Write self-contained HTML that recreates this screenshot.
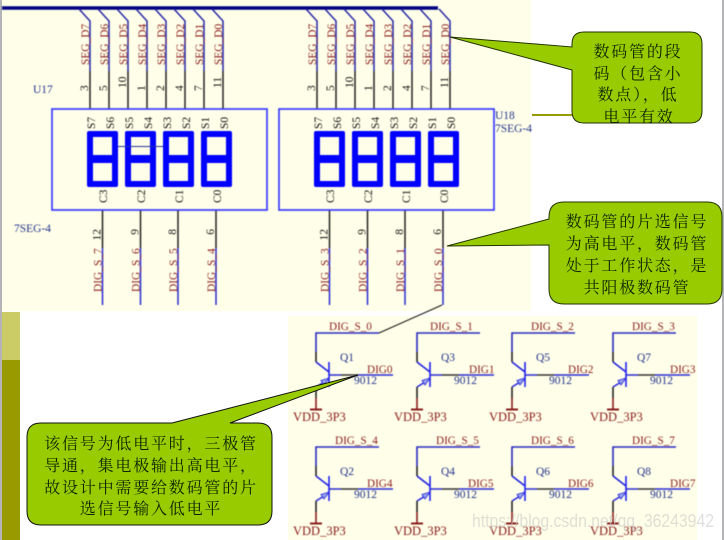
<!DOCTYPE html>
<html><head><meta charset="utf-8">
<style>
html,body{margin:0;padding:0;background:#fff;width:724px;height:540px;overflow:hidden}
svg{display:block}
.s{filter:blur(0.45px)}
text{font-family:"Liberation Serif","Noto Serif CJK SC",serif}
.r{fill:#8a1c1c;font-size:11.4px}
.k{fill:#111;font-size:11.5px}
.b{fill:#22328c;font-size:11.5px}
.v{fill:#8a1c1c;font-size:12.5px}
.d{fill:#8a1c1c;font-size:11.2px}
.c{font-family:"Liberation Sans","Noto Sans CJK SC",sans-serif;font-size:16px;letter-spacing:1.8px;fill:#0c2400;text-anchor:middle}
.e{text-anchor:end}
</style></head><body>
<svg width="724" height="540" viewBox="0 0 724 540" xmlns="http://www.w3.org/2000/svg">
<defs>
<path id="dg" fill-rule="evenodd" fill="#0000ff" d="M89,131H116Q118,131 118,133V185Q118,187 116,187H89Q87,187 87,185V133Q87,131 89,131ZM93,137V155H112V137ZM93,163V181H112V163Z"/>
<g id="tw" fill="none">
<path d="M79,9L90,21V71" stroke="#2626a8" stroke-width="1.5"/>
<path d="M90,71V109" stroke="#222" stroke-width="1.5"/>
</g>
<g id="bw" fill="none">
<path d="M102.5,210V248" stroke="#222" stroke-width="1.5"/>
<path d="M102.5,248V305" stroke="#2a2ad0" stroke-width="1.5"/>
</g>
<g id="q" fill="none" stroke-width="1.600">
<path d="M379,333H316V352" stroke="#2a2ac0"/>
<path d="M316,352V362" stroke="#222"/>
<path d="M316,362L329,372" stroke="#2020e0"/>
<path d="M329,362V387" stroke="#2020f0"/>
<path d="M329,375H341M358,375H393" stroke="#2a2ad0"/>
<path d="M341,375H358" stroke="#333"/>
<path d="M329,379L316,387" stroke="#2a2ae0"/>
<path d="M329,378L321,380.500L324,385Z" fill="#9aa8e8" stroke="#2a2ae0" stroke-width="0.9"/>
<path d="M316,387V398" stroke="#222"/>
<path d="M316,398V409" stroke="#8a1c1c"/>
<path d="M310,409.500H322" stroke="#8a1c1c" stroke-width="2"/>
</g>
</defs>

<rect width="724" height="540" fill="#fff"/>
<rect x="1" y="0" width="530" height="311" fill="#ffffe9"/>
<rect x="0" y="0" width="2" height="540" fill="#b4b4b8"/>
<rect x="722" y="0" width="2" height="540" fill="#b4b4b8"/>
<rect x="2" y="312" width="18" height="48" fill="#cccc66"/>
<rect x="2" y="360" width="18" height="180" fill="#999900"/>
<rect x="288" y="316" width="409" height="224" fill="#ffffe9"/>
<rect x="532" y="114" width="42" height="2" fill="#999900"/>

<g class="s">
<path d="M2,8H438" stroke="#000080" stroke-width="3.400" fill="none"/>
<use href="#tw"/><use href="#tw" x="19"/><use href="#tw" x="38"/><use href="#tw" x="57"/><use href="#tw" x="76"/><use href="#tw" x="95"/><use href="#tw" x="114"/><use href="#tw" x="133"/>
<use href="#tw" x="227"/><use href="#tw" x="246"/><use href="#tw" x="265"/><use href="#tw" x="284"/><use href="#tw" x="303"/><use href="#tw" x="322"/><use href="#tw" x="341"/><use href="#tw" x="360"/>
<use href="#bw"/><use href="#bw" x="38"/><use href="#bw" x="75.500"/><use href="#bw" x="113.500"/>
<use href="#bw" x="227"/><use href="#bw" x="265"/><use href="#bw" x="302.500"/><use href="#bw" x="340.500"/>
<rect x="52" y="109" width="215" height="101" fill="none" stroke="#3a3aff" stroke-width="1.700"/>
<rect x="279" y="109" width="215" height="101" fill="none" stroke="#3a3aff" stroke-width="1.700"/>
<use href="#dg"/><use href="#dg" x="38"/><use href="#dg" x="76"/><use href="#dg" x="114"/>
<use href="#dg" x="227"/><use href="#dg" x="265"/><use href="#dg" x="303"/><use href="#dg" x="341"/>
<path d="M118,146.500H163" stroke="#223399" stroke-width="1"/>

<g class="r">
<text transform="translate(89,65) rotate(-90)">SEG_D7</text>
<text transform="translate(108,65) rotate(-90)">SEG_D6</text>
<text transform="translate(127,65) rotate(-90)">SEG_D5</text>
<text transform="translate(146,65) rotate(-90)">SEG_D4</text>
<text transform="translate(165,65) rotate(-90)">SEG_D3</text>
<text transform="translate(184,65) rotate(-90)">SEG_D2</text>
<text transform="translate(203,65) rotate(-90)">SEG_D1</text>
<text transform="translate(222,65) rotate(-90)">SEG_D0</text>
<text transform="translate(316,65) rotate(-90)">SEG_D7</text>
<text transform="translate(335,65) rotate(-90)">SEG_D6</text>
<text transform="translate(354,65) rotate(-90)">SEG_D5</text>
<text transform="translate(373,65) rotate(-90)">SEG_D4</text>
<text transform="translate(392,65) rotate(-90)">SEG_D3</text>
<text transform="translate(411,65) rotate(-90)">SEG_D2</text>
<text transform="translate(430,65) rotate(-90)">SEG_D1</text>
<text transform="translate(449,65) rotate(-90)">SEG_D0</text>
<text transform="translate(101.500,292) rotate(-90)">DIG_S_7</text>
<text transform="translate(139.500,292) rotate(-90)">DIG_S_6</text>
<text transform="translate(177,292) rotate(-90)">DIG_S_5</text>
<text transform="translate(215,292) rotate(-90)">DIG_S_4</text>
<text transform="translate(328.500,292) rotate(-90)">DIG_S_3</text>
<text transform="translate(366.500,292) rotate(-90)">DIG_S_2</text>
<text transform="translate(404,292) rotate(-90)">DIG_S_1</text>
<text transform="translate(442,292) rotate(-90)">DIG_S_0</text>
</g>

<g class="k">
<text transform="translate(88,91) rotate(-90)">3</text>
<text transform="translate(107,91) rotate(-90)">5</text>
<text transform="translate(126,88) rotate(-90)">10</text>
<text transform="translate(145,91) rotate(-90)">1</text>
<text transform="translate(164,91) rotate(-90)">2</text>
<text transform="translate(183,91) rotate(-90)">4</text>
<text transform="translate(202,91) rotate(-90)">7</text>
<text transform="translate(221,88) rotate(-90)">11</text>
<text transform="translate(315,91) rotate(-90)">3</text>
<text transform="translate(334,91) rotate(-90)">5</text>
<text transform="translate(353,88) rotate(-90)">10</text>
<text transform="translate(372,91) rotate(-90)">1</text>
<text transform="translate(391,91) rotate(-90)">2</text>
<text transform="translate(410,91) rotate(-90)">4</text>
<text transform="translate(429,91) rotate(-90)">7</text>
<text transform="translate(448,88) rotate(-90)">11</text>

<text transform="translate(95,129) rotate(-90)">S7</text>
<text transform="translate(114,129) rotate(-90)">S6</text>
<text transform="translate(133,129) rotate(-90)">S5</text>
<text transform="translate(152,129) rotate(-90)">S4</text>
<text transform="translate(171,129) rotate(-90)">S3</text>
<text transform="translate(190,129) rotate(-90)">S2</text>
<text transform="translate(209,129) rotate(-90)">S1</text>
<text transform="translate(228,129) rotate(-90)">S0</text>
<text transform="translate(322,129) rotate(-90)">S7</text>
<text transform="translate(341,129) rotate(-90)">S6</text>
<text transform="translate(360,129) rotate(-90)">S5</text>
<text transform="translate(379,129) rotate(-90)">S4</text>
<text transform="translate(398,129) rotate(-90)">S3</text>
<text transform="translate(417,129) rotate(-90)">S2</text>
<text transform="translate(436,129) rotate(-90)">S1</text>
<text transform="translate(455,129) rotate(-90)">S0</text>

<text transform="translate(107,203) rotate(-90)">C3</text>
<text transform="translate(145,203) rotate(-90)">C2</text>
<text transform="translate(183,203) rotate(-90)">C1</text>
<text transform="translate(221,203) rotate(-90)">C0</text>
<text transform="translate(334,203) rotate(-90)">C3</text>
<text transform="translate(372,203) rotate(-90)">C2</text>
<text transform="translate(410,203) rotate(-90)">C1</text>
<text transform="translate(448,203) rotate(-90)">C0</text>

<text class="e" transform="translate(100.500,229) rotate(-90)">12</text>
<text class="e" transform="translate(138.500,229) rotate(-90)">9</text>
<text class="e" transform="translate(176,229) rotate(-90)">8</text>
<text class="e" transform="translate(214,229) rotate(-90)">6</text>
<text class="e" transform="translate(327.500,229) rotate(-90)">12</text>
<text class="e" transform="translate(365.500,229) rotate(-90)">9</text>
<text class="e" transform="translate(403,229) rotate(-90)">8</text>
<text class="e" transform="translate(441,229) rotate(-90)">6</text>
</g>

<g class="b">
<text x="33" y="93">U17</text>
<text x="14" y="232">7SEG-4</text>
<text x="495" y="119">U18</text>
<text x="495" y="132">7SEG-4</text>
</g>

<use href="#q"/><use href="#q" x="101"/><use href="#q" x="196"/><use href="#q" x="297"/>
<use href="#q" y="114"/><use href="#q" x="101" y="114"/><use href="#q" x="196" y="114"/><use href="#q" x="297" y="114"/>

<g class="d">
<text x="329" y="330">DIG_S_0</text>
<text x="430" y="330">DIG_S_1</text>
<text x="531" y="330">DIG_S_2</text>
<text x="632" y="330">DIG_S_3</text>
<text x="335" y="444">DIG_S_4</text>
<text x="436" y="444">DIG_S_5</text>
<text x="531" y="444">DIG_S_6</text>
<text x="632" y="444">DIG_S_7</text>
<text x="367" y="373">DIG0</text>
<text x="469" y="373">DIG1</text>
<text x="568" y="373">DIG2</text>
<text x="670" y="373">DIG3</text>
<text x="367" y="487">DIG4</text>
<text x="468" y="487">DIG5</text>
<text x="568" y="487">DIG6</text>
<text x="670" y="487">DIG7</text>
</g>
<g class="b">
<text x="354" y="384">9012</text>
<text x="454" y="384">9012</text>
<text x="549" y="384">9012</text>
<text x="650" y="384">9012</text>
<text x="354" y="498">9012</text>
<text x="454" y="498">9012</text>
<text x="549" y="498">9012</text>
<text x="650" y="498">9012</text>
<text x="340" y="361">Q1</text>
<text x="441" y="361">Q3</text>
<text x="536" y="361">Q5</text>
<text x="637" y="361">Q7</text>
<text x="340" y="475">Q2</text>
<text x="441" y="475">Q4</text>
<text x="536" y="475">Q6</text>
<text x="637" y="475">Q8</text>
</g>
<g class="v">
<text x="293" y="421">VDD_3P3</text>
<text x="394" y="421">VDD_3P3</text>
<text x="489" y="421">VDD_3P3</text>
<text x="590" y="421">VDD_3P3</text>
<text x="293" y="535">VDD_3P3</text>
<text x="394" y="535">VDD_3P3</text>
<text x="489" y="535">VDD_3P3</text>
<text x="590" y="535">VDD_3P3</text>
</g>
<path d="M379,333L442,305" stroke="#111" stroke-width="1" fill="none"/>
</g>

<path d="M584,32H690Q702,32 702,44V111Q702,123 690,123H584Q572,123 572,111V70L450,37L572,47V44Q572,32 584,32Z" fill="#99cc00" stroke="#223300" stroke-width="1"/>
<path d="M564,202H707Q722,202 722,217V289Q722,304 707,304H564Q549,304 549,289V245L447,246L549,219V217Q549,202 564,202Z" fill="#99cc00" stroke="#223300" stroke-width="1"/>
<path d="M41,423H172L358,375L230,423H258Q272,423 272,437V511Q272,525 258,525H41Q27,525 27,511V437Q27,423 41,423Z" fill="#99cc00" stroke="#111" stroke-width="1"/>

<g class="c">
<text x="638" y="57">数码管的段</text>
<text x="638" y="79">码（包含小</text>
<text x="638" y="100">数点），低</text>
<text x="639" y="122">电平有效</text>
<text x="637" y="227">数码管的片选信号</text>
<text x="637" y="249">为高电平，数码管</text>
<text x="637" y="271">处于工作状态，是</text>
<text x="637" y="293">共阳极数码管</text>
<text x="151" y="449">该信号为低电平时，三极管</text>
<text x="151" y="471">导通，集电极输出高电平，</text>
<text x="151" y="493">故设计中需要给数码管的片</text>
<text x="151" y="514">选信号输入低电平</text>
</g>

<text x="472" y="527" textLength="242" lengthAdjust="spacingAndGlyphs" style="font-family:'Liberation Sans',sans-serif;font-size:18px;fill:#c8c8c8;fill-opacity:.6">https://blog.csdn.net/qq_36243942</text>
</svg>
</body></html>
